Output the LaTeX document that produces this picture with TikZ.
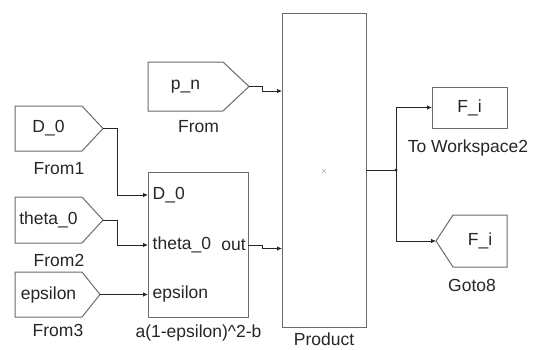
\documentclass[tikz,border=0pt]{standalone}
\usepackage{fontspec}
\setmainfont{Liberation Sans}
\usetikzlibrary{arrows.meta}
\begin{document}
\begin{tikzpicture}[x=1pt,y=-1pt,
  blk/.style={draw=black!58, line width=1pt, fill=white},
  wire/.style={draw=black!85, line width=0.8pt},
  arr/.style={-{Latex[length=5pt,width=4.5pt]}},
  txt/.style={font=\fontsize{17.5}{19}\selectfont, inner sep=0pt, text=black!85},
  rbox/.style={blk, anchor=north west, inner sep=0pt},
]
\useasboundingbox (0,0) rectangle (536,349);

% From blocks (pentagon "from" tags)
\draw[blk] (148,62) -- (223,62) -- (249,86.5) -- (223,111) -- (148,111) -- cycle;
\node[txt] (pn) at (185.5,86.5) {p\_n};
\node[txt] (lfrom) at (198.5,127) {From};
\coordinate (pno) at (249,86.5);

\draw[blk] (15,106) -- (82,106) -- (103,128.5) -- (82,151) -- (15,151) -- cycle;
\node[txt] (d0) at (48.5,128.5) {D\_0};
\node[txt] (lfrom1) at (59,168.5) {From1};
\coordinate (f1o) at (103,128.5);

\draw[blk] (15,197) -- (82,197) -- (103,220) -- (82,243) -- (15,243) -- cycle;
\node[txt] (th0) at (48.5,220) {theta\_0};
\node[txt] (lfrom2) at (59,260) {From2};
\coordinate (f2o) at (103,220);

\draw[blk] (15,272) -- (82,272) -- (100,294.5) -- (82,317) -- (15,317) -- cycle;
\node[txt] (eps) at (48.5,294.5) {epsilon};
\node[txt] (lfrom3) at (58,330) {From3};
\coordinate (f3o) at (100,294.5);

% Subsystem
\node[rbox, minimum width=100pt, minimum height=145pt] (ss) at (148,172) {};
\node[txt, anchor=west] (ssd) at (152.5,195) {D\_0};
\node[txt, anchor=west] (sst) at (152.5,245) {theta\_0};
\node[txt, anchor=west] (sse) at (152.5,294) {epsilon};
\node[txt, anchor=east] (sso) at (246,245) {out};
\node[txt] (lss) at (198.5,332.5) {a(1-epsilon)\^{}2-b};
\coordinate (ssD) at (148,195);
\coordinate (ssT) at (148,245);
\coordinate (ssE) at (148,294.5);
\coordinate (ssO) at (248,245);

% Product
\node[rbox, minimum width=84pt, minimum height=314pt] (prod) at (282,13) {};
\node[inner sep=0pt, font=\fontsize{8}{8}\selectfont, text=black!60] (x) at (324,171) {$\times$};
\node[txt] (lprod) at (324,339.5) {Product};
\coordinate (prA) at (282,91);
\coordinate (prB) at (282,248.5);
\coordinate (prO) at (366,170);

% To Workspace
\node[rbox, minimum width=75pt, minimum height=41pt] (tw) at (432,87) {};
\node[txt] (fi1) at (469.5,107.5) {F\_i};
\node[txt] (ltw) at (468,148) {To Workspace2};
\coordinate (twin) at (432,107.5);

% Goto
\draw[blk] (507,215) -- (453,215) -- (436,241) -- (453,267) -- (507,267) -- cycle;
\node[txt] (fi2) at (480,241) {F\_i};
\node[txt] (lgoto) at (472,285) {Goto8};
\coordinate (gin) at (436,241);

% Wires
\draw[wire,arr] (pno) -- ++(13,0) |- (prA);
\draw[wire,arr] (f1o) -- ++(14,0) |- (ssD);
\draw[wire,arr] (f2o) -- ++(14,0) |- (ssT);
\draw[wire,arr] (f3o) -- (ssE);
\draw[wire,arr] (ssO) -- ++(14,0) |- (prB);
\coordinate (br) at (396,170);
\draw[wire] (prO) -- (br);
\draw[wire,arr] (br) |- (twin);
\draw[wire,arr] (br) |- (gin);
\fill[black!85] (br) circle (1.6pt);
\end{tikzpicture}
\end{document}
